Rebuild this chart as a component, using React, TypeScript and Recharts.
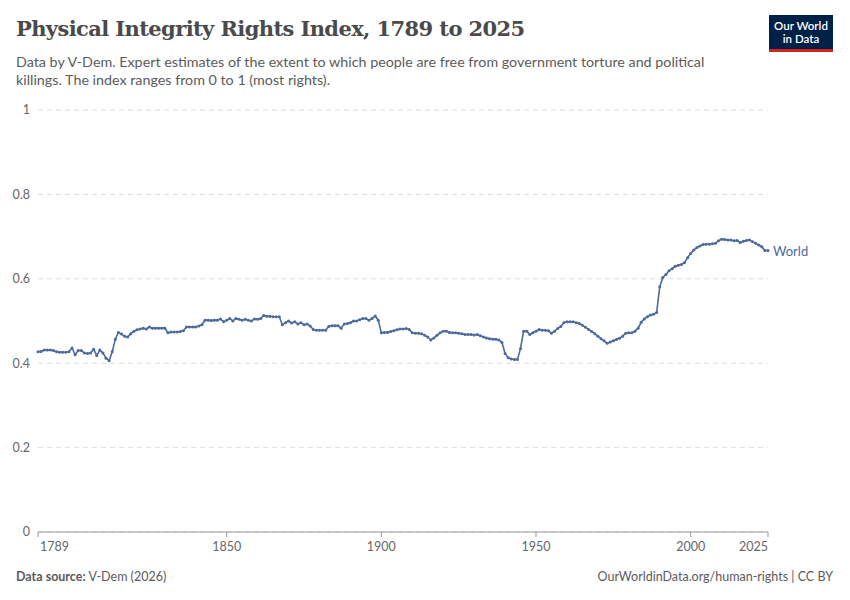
import React from "react";
import { LineChart, Line, XAxis, YAxis, CartesianGrid } from "recharts";

const startYear = 1789;
const worldValues = [
  0.427,0.428,0.431,0.431,0.431,0.430,0.427,0.426,0.426,0.426,
  0.427,0.436,0.420,0.430,0.430,0.424,0.423,0.424,0.433,0.418,
  0.431,0.424,0.412,0.406,0.427,0.457,0.473,0.469,0.464,0.462,
  0.470,0.476,0.479,0.481,0.483,0.481,0.486,0.483,0.483,0.483,
  0.483,0.483,0.472,0.474,0.474,0.474,0.475,0.477,0.486,0.486,
  0.486,0.486,0.488,0.491,0.502,0.502,0.501,0.502,0.502,0.505,
  0.498,0.502,0.506,0.500,0.506,0.504,0.502,0.504,0.502,0.500,
  0.505,0.504,0.506,0.513,0.511,0.511,0.510,0.510,0.510,0.491,
  0.496,0.500,0.495,0.498,0.493,0.496,0.491,0.493,0.488,0.480,
  0.478,0.478,0.478,0.478,0.487,0.489,0.489,0.489,0.483,0.493,
  0.494,0.496,0.500,0.500,0.503,0.506,0.506,0.502,0.506,0.512,
  0.502,0.472,0.473,0.473,0.475,0.477,0.479,0.481,0.481,0.482,
  0.480,0.472,0.471,0.471,0.470,0.466,0.462,0.455,0.460,0.466,
  0.472,0.476,0.476,0.473,0.472,0.472,0.471,0.470,0.468,0.468,
  0.468,0.467,0.468,0.465,0.462,0.460,0.458,0.457,0.457,0.455,
  0.449,0.423,0.413,0.410,0.409,0.409,0.435,0.476,0.476,0.468,
  0.472,0.476,0.480,0.478,0.478,0.477,0.471,0.476,0.482,0.487,
  0.496,0.498,0.498,0.498,0.496,0.494,0.490,0.485,0.480,0.475,
  0.470,0.464,0.458,0.453,0.447,0.450,0.453,0.456,0.459,0.464,
  0.471,0.472,0.472,0.476,0.483,0.497,0.505,0.510,0.514,0.516,
  0.520,0.581,0.603,0.610,0.619,0.624,0.630,0.632,0.634,0.638,
  0.650,0.660,0.668,0.674,0.678,0.681,0.682,0.682,0.683,0.684,
  0.690,0.694,0.693,0.692,0.692,0.690,0.691,0.686,0.689,0.691,
  0.692,0.688,0.684,0.680,0.676,0.667,0.667,
];
const xTicks = [1789, 1850, 1900, 1950, 2000, 2025];
const yTicks = [0, 0.2, 0.4, 0.6, 0.8, 1];

const data = worldValues.map((v, i) => ({ year: startYear + i, world: v }));
const COLOR = "#4c6a9c";
const FONT = "Lato, 'Noto Sans', sans-serif";

const EndLabel = (props: any) => {
  const { x, y, index } = props;
  if (index !== data.length - 1) return null;
  return (
    <text x={x + 5} y={y + 5} fill={COLOR} fontSize={13} fontFamily={FONT}>World</text>
  );
};

const XTick = (props: any) => {
  const { x, y, payload } = props;
  const v = payload.value;
  const anchor = v === 1789 ? "start" : v === 2025 ? "end" : "middle";
  const dx = v === 1789 ? 2 : 0;
  return (
    <text x={x + dx} y={y + 12} textAnchor={anchor} fill="#666" fontSize={12.5} fontFamily={FONT}>{v}</text>
  );
};

export default function App() {
  return (
    <div style={{ position: "absolute", left: 0, top: 0, width: 850, height: 600, background: "#fff", fontFamily: FONT }}>
      <div style={{ position: "absolute", left: 16, top: 16, fontFamily: "'DejaVu Serif', serif", fontSize: 21, color: "#4a4a4a", fontWeight: 600, letterSpacing: -0.6 }}>
        Physical Integrity Rights Index, 1789 to 2025
      </div>
      <div style={{ position: "absolute", left: 16, top: 53, width: 730, fontSize: 14.3, lineHeight: "18px", color: "#5b5b5b" }}>
        Data by V-Dem. Expert estimates of the extent to which people are free from government torture and political killings. The index ranges from 0 to 1 (most rights).
      </div>
      <div style={{ position: "absolute", left: 769, top: 15, width: 64, height: 37, background: "#002147", borderBottom: "3px solid #ce261e", boxSizing: "border-box", color: "#fff", fontSize: 11.5, lineHeight: "13px", fontWeight: 600, textAlign: "center", paddingTop: 4 }}>
        Our World<br />in Data
      </div>
      <div style={{ position: "absolute", left: 16, top: 569, fontSize: 12.5, color: "#5b5b5b" }}>
        <b>Data source:</b> V-Dem (2026)
      </div>
      <div style={{ position: "absolute", right: 17, top: 569, fontSize: 12.5, color: "#5b5b5b" }}>
        OurWorldinData.org/human-rights | CC BY
      </div>
      <div style={{ position: "absolute", left: 0, top: 0 }}>
        <LineChart width={850} height={600} data={data} margin={{ top: 110, right: 82, bottom: 38, left: 0 }}>
          <CartesianGrid vertical={false} stroke="#dddddd" strokeDasharray="5 4" />
          <XAxis
            dataKey="year"
            type="number"
            domain={[1789, 2025]}
            ticks={xTicks}
            tick={<XTick />}
            height={30}
            stroke="#999"
            tickLine={{ stroke: "#999" }}
            tickSize={5}
            interval={0}
          />
          <YAxis
            type="number"
            domain={[0, 1]}
            ticks={yTicks}
            width={38}
            axisLine={false}
            tickLine={false}
            tick={{ fill: "#666", fontSize: 12.5, fontFamily: FONT }}
            tickFormatter={(v: number) => String(v)}
          />
          <Line
            dataKey="world"
            stroke={COLOR}
            strokeWidth={1.6}
            dot={{ r: 1.5, fill: COLOR, stroke: "none" }}
            isAnimationActive={false}
            label={<EndLabel />}
          />
        </LineChart>
      </div>
    </div>
  );
}
